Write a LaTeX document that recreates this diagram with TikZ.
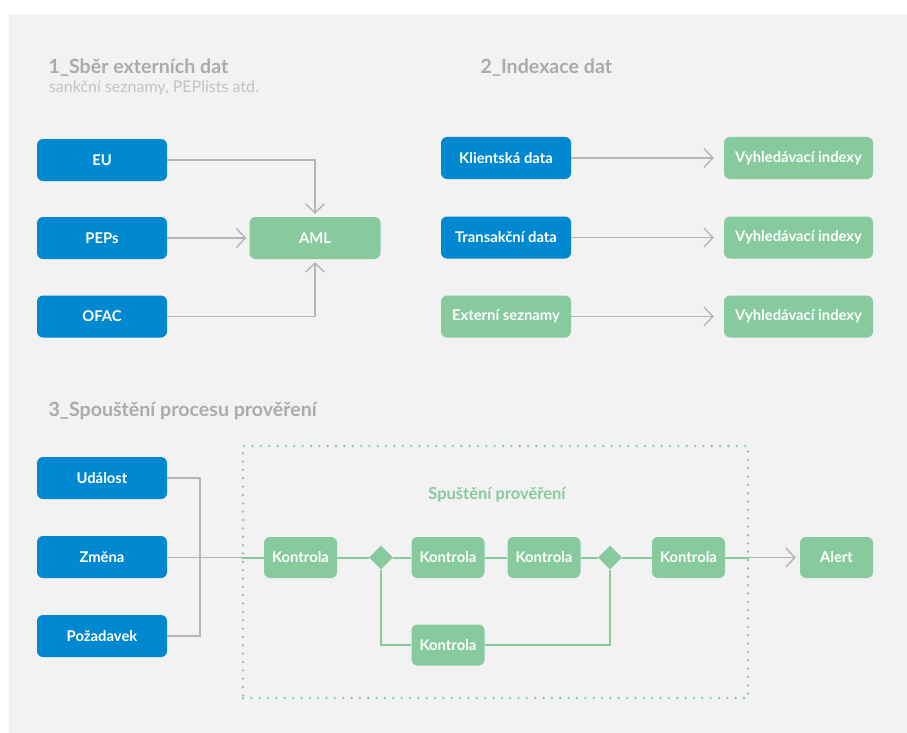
\documentclass[tikz,border=0pt]{standalone}
\usepackage{fontspec}
\setmainfont{Lato}
\usetikzlibrary{arrows.meta,shapes.geometric}
\definecolor{boxblue}{HTML}{0088D1}
\definecolor{boxgreen}{HTML}{86CA9D}
\definecolor{linegray}{HTML}{B5B5B5}
\definecolor{titlegray}{HTML}{ABABAB}
\definecolor{subgray}{HTML}{C3C3C3}
\definecolor{bggray}{HTML}{F2F2F2}
\begin{document}
\begin{tikzpicture}[x=1pt,y=-1pt,
  box/.style={rounded corners=6pt, minimum height=42pt, inner sep=0pt, text=white,
    font=\bfseries\fontsize{14.8}{17}\selectfont},
  bbox/.style={box, fill=boxblue, minimum width=130pt},
  gbox/.style={box, fill=boxgreen, minimum width=130pt},
  ibox/.style={box, fill=boxgreen, minimum width=149pt},
  kbox/.style={box, fill=boxgreen, minimum width=73pt, minimum height=41pt},
  gate/.style={diamond, fill=boxgreen, inner sep=0pt, minimum width=24pt, minimum height=24pt},
  title/.style={anchor=base west, text=titlegray, font=\bfseries\fontsize{19.6}{23}\selectfont},
  gline/.style={draw=linegray, line width=1.4pt},
  garrow/.style={gline, -{Straight Barb[length=9pt, width=19pt, line width=1.4pt]}},
  flow/.style={draw=boxgreen, line width=2pt},
  frame/.style={draw=boxgreen, line width=2.6pt, line cap=round, dash pattern=on 0pt off 8.35pt}
]
\useasboundingbox (0,0) rectangle (907,733);
\fill[bggray] (9,14) rectangle (907,733);

% section headings
\node[title] (t1) at (45,74) {1\_Sběr externích dat};
\node[anchor=base west, text=subgray, font=\fontsize{16}{19}\selectfont] (t1s) at (45.5,93) {sankční seznamy, PEPlists atd.};
\node[title] (t2) at (477,74) {2\_Indexace dat};
\node[title] (t3) at (45,416) {3\_Spouštění procesu prověření};

% 1: external sources
\node[bbox] (eu) at (102,160) {EU};
\node[bbox] (peps) at (102,238) {PEPs};
\node[bbox] (ofac) at (102,316.5) {OFAC};
\node[gbox, minimum width=131pt] (aml) at (315,238) {AML};
\draw[garrow, shorten >=3pt] (eu.east) -| (aml.north);
\draw[garrow, shorten >=3pt] (peps.east) -- (aml.west);
\draw[garrow, shorten >=3pt] (ofac.east) -| (aml.south);

% 2: indexing
\node[bbox] (klient) at (506,158) {Klientská data};
\node[bbox] (trans) at (506,237.5) {Transakční data};
\node[gbox] (ext) at (506,316.5) {Externí seznamy};
\node[ibox] (ix1) at (798.5,158) {Vyhledávací indexy};
\node[ibox] (ix2) at (798.5,237.5) {Vyhledávací indexy};
\node[ibox] (ix3) at (798.5,316.5) {Vyhledávací indexy};
\draw[garrow, shorten >=10pt] (klient.east) -- (ix1.west);
\draw[garrow, shorten >=10pt] (trans.east) -- (ix2.west);
\draw[garrow, shorten >=10pt] (ext.east) -- (ix3.west);

% 3: screening process
\node[frame, minimum width=505pt, minimum height=252pt, inner sep=0pt] (scr) at (495.5,572) {};
\node[text=boxgreen, font=\bfseries\fontsize{16.5}{19}\selectfont] (scrl) at (497,495) {Spuštění prověření};

\node[bbox] (udal) at (102,478) {Událost};
\node[bbox] (zmena) at (102,557) {Změna};
\node[bbox] (pozad) at (102,636) {Požadavek};

\node[kbox] (k1) at (300.5,557.5) {Kontrola};
\node[gate] (d1) at (381,557.5) {};
\node[kbox] (k2) at (448,557.5) {Kontrola};
\node[kbox] (k3) at (544,557.5) {Kontrola};
\node[gate] (d2) at (610,557.5) {};
\node[kbox] (k4) at (448,645) {Kontrola};
\node[kbox] (k5) at (688.5,557.5) {Kontrola};
\node[kbox] (alert) at (836.5,557.5) {Alert};

\coordinate (bus) at (200,557.5);
\coordinate (fin) at (scr.west |- k1.west);
\coordinate (fout) at (scr.east |- k5.east);
\draw[gline] (udal.east) -| (bus) |- (pozad.east);
\draw[gline] (zmena.east |- bus) -- (fin);
\draw[flow] (fin) -- (k1.west);
\draw[flow] (k1.east) -- (d1.west);
\draw[flow] (d1.east) -- (k2.west);
\draw[flow] (k2.east) -- (k3.west);
\draw[flow] (k3.east) -- (d2.west);
\draw[flow] (d2.east) -- (k5.west);
\draw[flow] (d1.south) |- (k4.west);
\draw[flow] (k4.east) -| (d2.south);
\draw[flow] (k5.east) -- (fout);
\draw[garrow, shorten >=4pt] (fout) -- (alert.west);
\end{tikzpicture}
\end{document}
